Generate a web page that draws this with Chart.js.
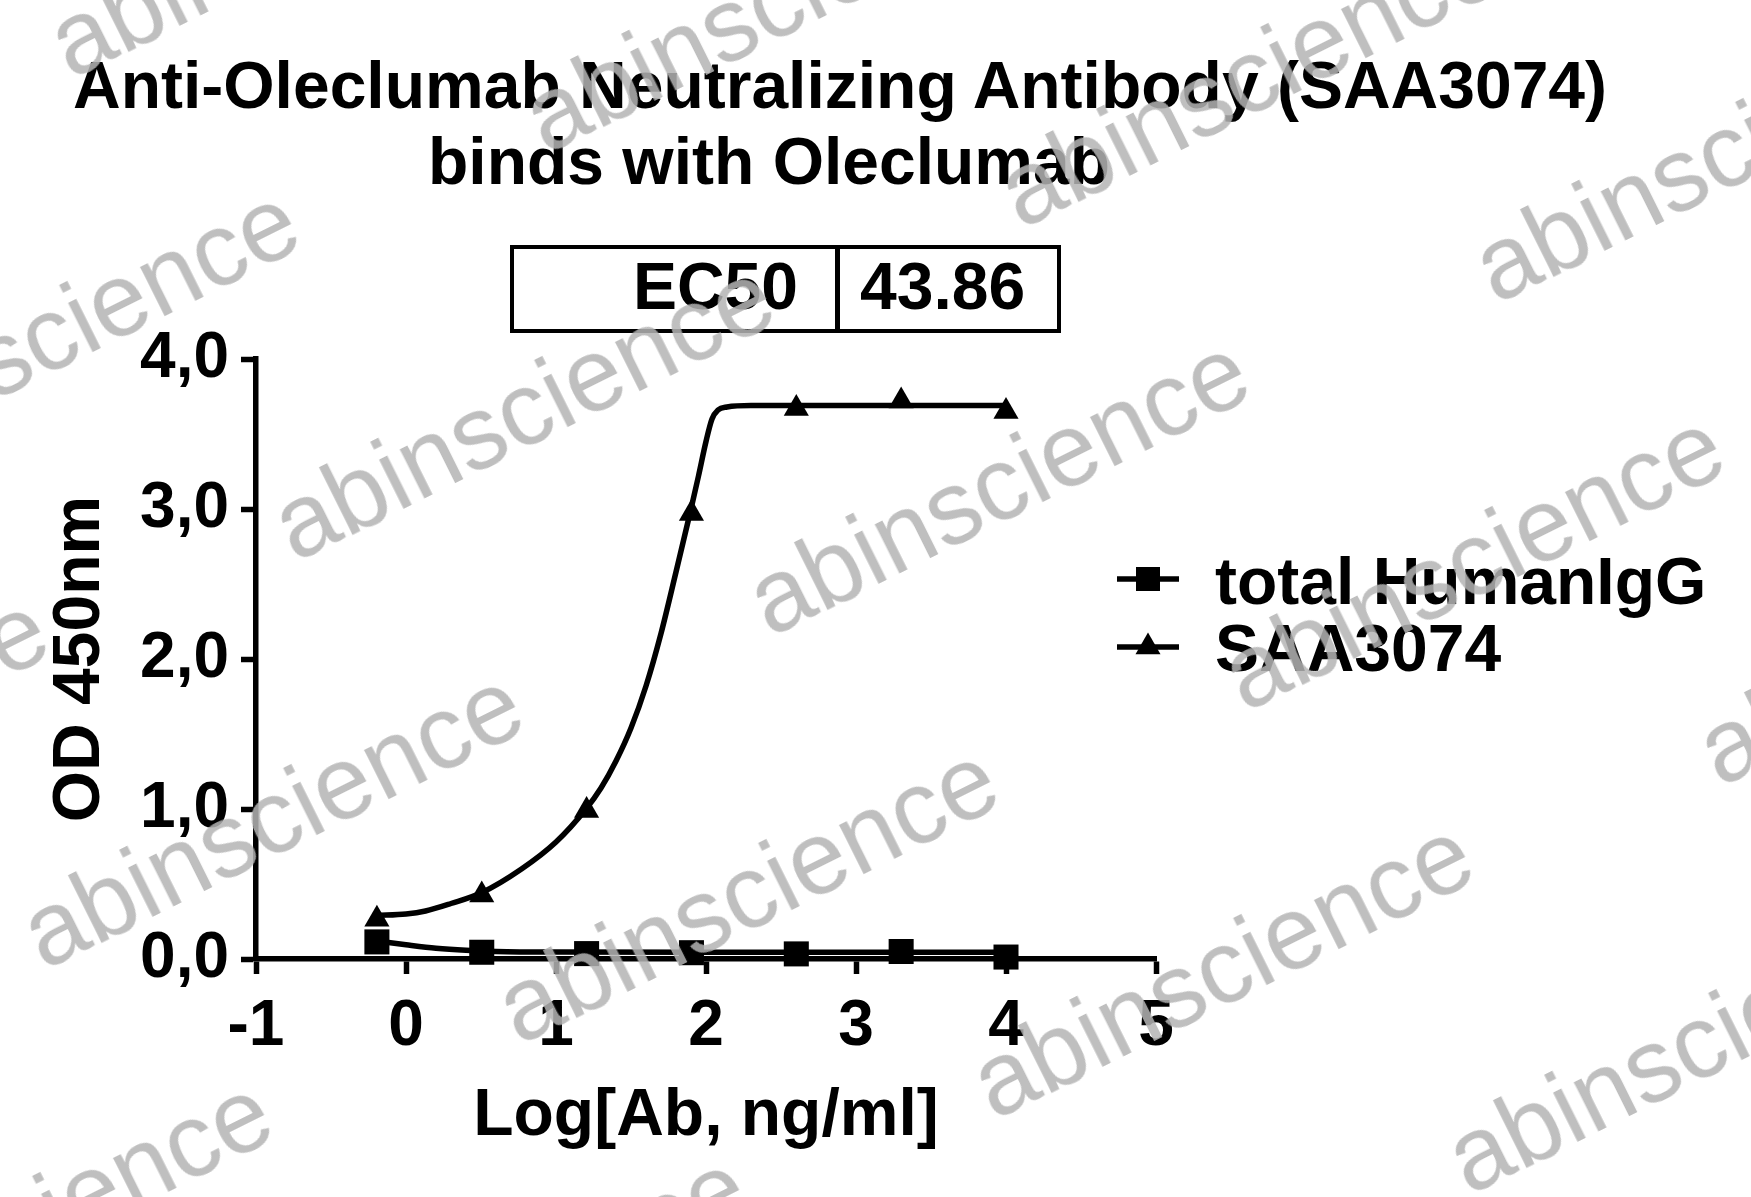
<!DOCTYPE html>
<html>
<head>
<meta charset="utf-8">
<script src="https://cdn.jsdelivr.net/npm/chart.js@4.4.1/dist/chart.umd.min.js"></script>
<style>
html,body{margin:0;padding:0;background:#fff;}
#wrap{position:relative;width:1751px;height:1197px;overflow:hidden;background:#fff;}
#c{position:absolute;left:0;top:0;}
.t{position:absolute;font-family:'Liberation Sans',Arial,sans-serif;font-weight:bold;font-size:66px;line-height:66px;color:#000;white-space:nowrap;}
.wm{position:absolute;font-family:'Liberation Sans',Arial,sans-serif;font-size:103px;line-height:103px;color:rgba(180,180,180,0.85);white-space:nowrap;transform-origin:0 87px;transform:rotate(-26.5deg);pointer-events:none;}
#tbl{position:absolute;left:510px;top:245px;width:551px;height:88px;box-sizing:border-box;border:4.5px solid #000;}
#div{position:absolute;left:321px;top:0;width:4.5px;height:100%;background:#000;}
</style>
</head>
<body>
<div id="wrap">
  <canvas id="c" width="1751" height="1197"></canvas>
  <div class="t" style="left:73px;top:52px;">Anti-Oleclumab Neutralizing Antibody (SAA3074)</div>
  <div class="t" style="left:428px;top:128px;">binds with Oleclumab</div>
  <div id="tbl"><div id="div"></div></div>
  <div class="t" id="ecLabel" style="right:953px;top:253px;"></div>
  <div class="t" id="ecValue" style="left:860px;top:253px;"></div>
  <svg style="position:absolute;left:1117px;top:559px;" width="62" height="40">
    <line x1="0" y1="20" x2="62" y2="20" stroke="#000" stroke-width="5.5"/>
    <rect x="19" y="8" width="24" height="24" fill="#000"/>
  </svg>
  <svg style="position:absolute;left:1117px;top:627px;" width="62" height="40">
    <line x1="0" y1="20" x2="62" y2="20" stroke="#000" stroke-width="5.5"/>
    <polygon points="31,5.5 43.5,27.25 18.5,27.25" fill="#000"/>
  </svg>
  <div class="t" id="leg1" style="left:1215px;top:548px;"></div>
  <div class="t" id="leg2" style="left:1215px;top:615px;"></div>
  <div id="wms"></div>
</div>
<script>
// ---- data ----
const seriesNames = ['total HumanIgG', 'SAA3074'];
const logConc = [-0.194, 0.505, 1.204, 1.903, 2.602, 3.301, 4.0];
const humanIgG_OD = [0.114, 0.045, 0.036, 0.042, 0.034, 0.050, 0.013];
const saa3074_OD = [0.265, 0.426, 0.99, 2.97, 3.67, 3.72, 3.65];
// fitted curves
const humanIgGFitX = [-0.194, 0.0, 0.2, 0.4, 0.6, 1.0, 2.0, 3.0, 4.0];
const humanIgGFitY = [0.12, 0.095, 0.072, 0.058, 0.050, 0.046, 0.045, 0.045, 0.045];
const saaFitX = [-0.194, 0.0, 0.13, 0.3, 0.5, 0.77, 1.0, 1.2, 1.3, 1.4, 1.5, 1.6, 1.7, 1.8, 1.9, 1.95, 2.0, 2.04, 2.08, 2.14, 2.3, 3.0, 4.0];
const saaFitY = [0.29, 0.30, 0.32, 0.37, 0.44, 0.60, 0.78, 1.0, 1.14, 1.32, 1.54, 1.82, 2.17, 2.58, 3.0, 3.22, 3.45, 3.60, 3.66, 3.68, 3.69, 3.69, 3.69];
const xTickValues = [-1, 0, 1, 2, 3, 4, 5];
const xTickLabels = ['-1', '0', '1', '2', '3', '4', '5'];
const yTickValues = [0, 1, 2, 3, 4];
const yTickLabels = ['0,0', '1,0', '2,0', '3,0', '4,0'];
const ec50Label = 'EC50';
const ec50Value = '43.86';
const xTitle = 'Log[Ab, ng/ml]';
const yTitle = 'OD 450nm';

document.getElementById('ecLabel').textContent = ec50Label;
document.getElementById('ecValue').textContent = ec50Value;
document.getElementById('leg1').textContent = seriesNames[0];
document.getElementById('leg2').textContent = seriesNames[1];

// watermark
const wms = document.getElementById('wms');
for (let j = -1; j <= 2; j++) {
  for (let i = -1; i <= 3; i++) {
    const x = 295 + i * 475 - j * 251;
    const y = 563 + i * 75 + j * 408;
    if (x > 1760 || x < -560 || y < -20 || y > 1460) continue;
    const s = document.createElement('div');
    s.className = 'wm';
    s.textContent = 'abinscience';
    s.style.left = x + 'px';
    s.style.top = (y - 87) + 'px';
    wms.appendChild(s);
  }
}

const pts = (xs, ys) => xs.map((x, k) => ({x: x, y: ys[k]}));
const FONT = "'Liberation Sans', Arial, sans-serif";

new Chart(document.getElementById('c'), {
  type: 'scatter',
  data: {
    datasets: [
      {label: seriesNames[0] + ' fit', data: pts(humanIgGFitX, humanIgGFitY), showLine: true, borderColor: '#000', borderWidth: 5.5, pointRadius: 0, cubicInterpolationMode: 'monotone', clip: false},
      {label: seriesNames[1] + ' fit', data: pts(saaFitX, saaFitY), showLine: true, borderColor: '#000', borderWidth: 5.5, pointRadius: 0, cubicInterpolationMode: 'monotone', clip: false},
      {label: seriesNames[0], data: pts(logConc, humanIgG_OD), showLine: false, pointStyle: 'rect', pointRadius: 17.7, backgroundColor: '#000', borderColor: '#000', borderWidth: 0, clip: false},
      {label: seriesNames[1], data: pts(logConc, saa3074_OD), showLine: false, pointStyle: 'triangle', pointRadius: 14.5, backgroundColor: '#000', borderColor: '#000', borderWidth: 0, clip: false}
    ]
  },
  options: {
    responsive: false,
    animation: false,
    devicePixelRatio: 1,
    layout: {padding: {left: 0, top: 359, right: 595, bottom: 0}},
    plugins: {legend: {display: false}, tooltip: {enabled: false}, title: {display: false}},
    scales: {
      x: {
        type: 'linear', min: -1, max: 5,
        afterFit: s => { s.height = 238; },
        afterBuildTicks: s => { s.ticks = xTickValues.map(v => ({value: v})); },
        ticks: {color: '#000', font: {family: FONT, size: 64, weight: 'bold'}, padding: 15, maxRotation: 0,
          callback: (v) => { const k = xTickValues.indexOf(v); return k >= 0 ? xTickLabels[k] : ''; }},
        grid: {display: true, drawOnChartArea: false, drawTicks: true, tickLength: 15, tickWidth: 5.5, tickColor: '#000'},
        border: {display: true, width: 5.5, color: '#000'},
        title: {display: true, text: xTitle, color: '#000', font: {family: FONT, size: 66, weight: 'bold'}, padding: {top: 0, bottom: 41}}
      },
      y: {
        type: 'linear', min: 0, max: 4,
        afterFit: s => { s.width = 256; },
        afterBuildTicks: s => { s.ticks = yTickValues.map(v => ({value: v})); },
        ticks: {color: '#000', font: {family: FONT, size: 64, weight: 'bold'}, padding: 12,
          callback: (v) => { const k = yTickValues.indexOf(v); return k >= 0 ? yTickLabels[k] : ''; }},
        grid: {display: true, drawOnChartArea: false, drawTicks: true, tickLength: 15, tickWidth: 5.5, tickColor: '#000'},
        border: {display: true, width: 5.5, color: '#000'},
        title: {display: true, text: yTitle, color: '#000', font: {family: FONT, size: 66, weight: 'bold'}, padding: {top: 41, bottom: 0}}
      }
    }
  }
});
</script>
</body>
</html>
